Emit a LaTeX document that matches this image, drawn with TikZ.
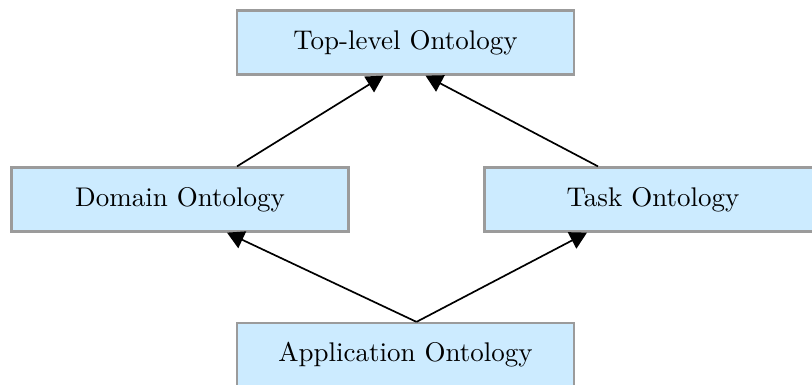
\documentclass[tikz,border=0pt]{standalone}
\usepackage{tikz}
\usetikzlibrary{arrows.meta, positioning, calc}
\definecolor{OntoFill}{RGB}{204, 235, 255}
\definecolor{OntoEdge}{RGB}{155, 155, 155}
\tikzset{
  ontobox/.style={rectangle, draw=OntoEdge, fill=OntoFill, line width=0.8pt,
                  minimum width=337*0.0125cm, minimum height=64*0.0125cm,
                  font=\fontsize{9.6}{11}\selectfont, text=black, align=center},
  arr/.style={-{Triangle[length=6pt, width=6.5pt]}, semithick, color=black},
}
\begin{document}
\begin{tikzpicture}[x=0.0125cm, y=-0.0125cm]
  \useasboundingbox (0,0) rectangle (812,385);
  \clip (0,0) rectangle (812,385);

  %% TOP LEVEL
  \node[ontobox] (top) at (405.5,42.5) {Top-level Ontology};

  %% MIDDLE LEVEL
  \node[ontobox] (dom) at (180,199.5) {Domain Ontology};
  \node[ontobox] (task) at (653,199.5) {Task Ontology};

  %% BOTTOM LEVEL
  \node[ontobox] (app) at (405.5,355) {Application Ontology};

  \draw[arr] ($(dom.north)+(57,0)$)  -- ($(top.south)+(-22,0)$);
  \draw[arr] ($(task.north)+(-55,0)$) -- ($(top.south)+(20,0)$);
  \draw[arr] ($(app.north)+(11,0)$)  -- ($(dom.south)+(47,0)$);
  \draw[arr] ($(app.north)+(11,0)$)  -- ($(task.south)+(-66,0)$);

\end{tikzpicture}
\end{document}
